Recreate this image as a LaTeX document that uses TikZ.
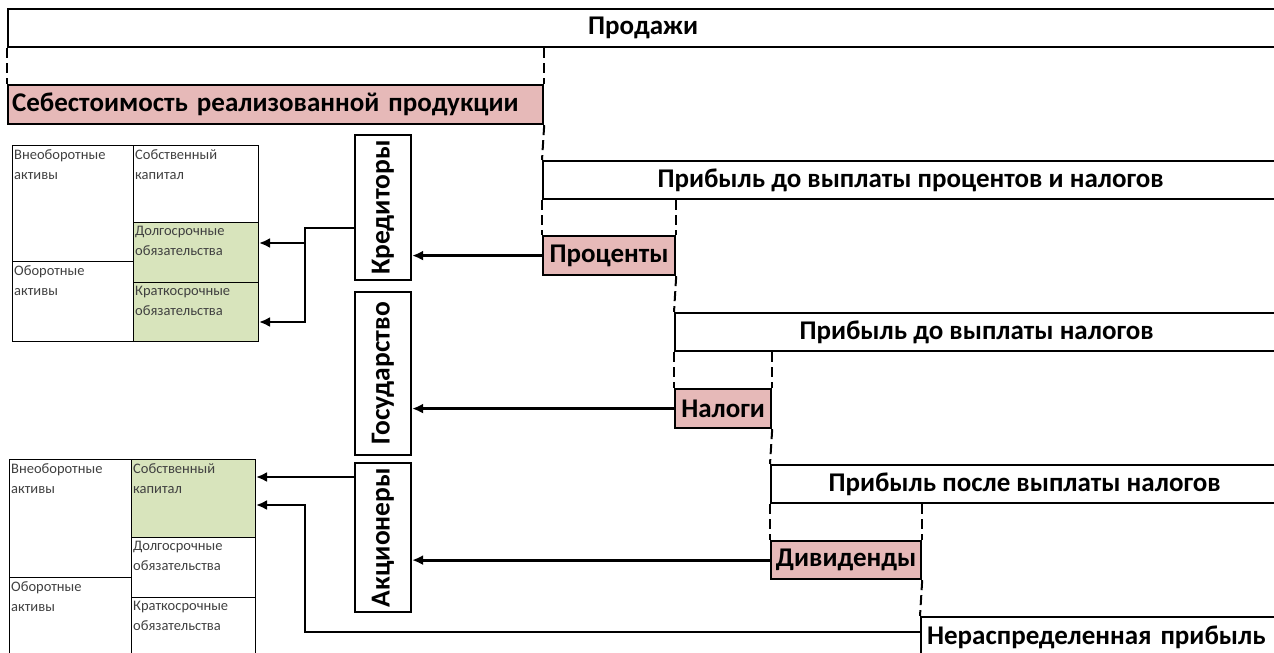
\documentclass[tikz,border=0pt]{standalone}
\usepackage{fontspec}
\setmainfont{Carlito}
\usetikzlibrary{positioning}
\usetikzlibrary{arrows.meta}
\usepackage{xcolor}
\definecolor{costpink}{RGB}{230,185,184}
\definecolor{liabgreen}{RGB}{216,228,188}

\begin{document}
\begin{tikzpicture}[x=1pt, y=-1pt,
        bar/.style={draw, line width=2.2pt, anchor=north west, inner sep=0pt, minimum height=38pt, font=\bfseries\fontsize{27}{30}\selectfont},
        cost/.style={bar, fill=costpink},
        party/.style={draw, line width=2.2pt, rotate=90, inner sep=0pt, minimum height=56pt, font=\bfseries\fontsize{27.5}{30}\selectfont},
        cell/.style={draw, line width=1pt, anchor=north west, inner sep=0pt, minimum width=121pt},
        celltext/.style={anchor=north west, align=left, inner xsep=2pt, inner ysep=4pt, text=black!75, font=\fontsize{14.5}{20}\selectfont},
        guide/.style={line width=2pt, dash pattern=on 10pt off 5pt},
        flow/.style={line width=2.8pt, -{Latex[length=11pt,width=10pt]}}]
            \useasboundingbox (0,0) rectangle (1274,653);

            \node[bar, minimum width=1270pt] (sales) at (7,8) {Продажи};
            \node[cost, text width=527pt, inner xsep=4pt, align=left, minimum height=39pt] (cogs) at (7,84) {Себестоимость реализованной продукции};
            \node[bar, minimum width=735pt] (ebit) at (542,160) {Прибыль до выплаты процентов и налогов};
            \node[cost, minimum width=132pt, minimum height=39pt] (int) at (542,235) {Проценты};
            \node[bar, minimum width=603pt] (ebt) at (674,312) {Прибыль до выплаты налогов};
            \node[cost, minimum width=96pt, minimum height=39pt] (tax) at (674,388) {Налоги};
            \node[bar, minimum width=507pt] (eat) at (770,464) {Прибыль после выплаты налогов};
            \node[cost, minimum width=150pt] (div) at (770,540) {Дивиденды};
            \node[bar, text width=345pt, inner xsep=6pt, align=left, minimum height=40pt] (re) at (920,616) {Нераспределенная прибыль};

            \node[party, minimum width=145pt] (cred) at (383,207.5) {Кредиторы};
            \node[party, minimum width=163pt] (state) at (383,373.5) {Государство};
            \node[party, minimum width=149pt] (share) at (383,537.5) {Акционеры};

            \node[cell, minimum height=116pt, label={[celltext]north west:{Внеоборотные\\активы}}] (fixA) at (12,145) {};
            \node[cell, minimum height=80pt, label={[celltext]north west:{Оборотные\\активы}}] (curA) at (12,261) {};
            \node[cell, minimum width=125pt, minimum height=77pt, label={[celltext]north west:{Собственный\\капитал}}] (eqA) at (133,145) {};
            \node[cell, minimum width=125pt, minimum height=60pt, fill=liabgreen, label={[celltext]north west:{Долгосрочные\\обязательства}}] (ltlA) at (133,222) {};
            \node[cell, minimum width=125pt, minimum height=59pt, fill=liabgreen, label={[celltext]north west:{Краткосрочные\\обязательства}}] (stlA) at (133,282) {};

            \node[cell, minimum width=122pt, minimum height=118pt, label={[celltext]north west:{Внеоборотные\\активы}}] (fixB) at (9,459) {};
            \node[cell, minimum width=122pt, minimum height=90pt, label={[celltext]north west:{Оборотные\\активы}}] (curB) at (9,577) {};
            \node[cell, minimum width=124pt, minimum height=78pt, fill=liabgreen, label={[celltext]north west:{Собственный\\капитал}}] (eqB) at (131,459) {};
            \node[cell, minimum width=124pt, minimum height=60pt, label={[celltext]north west:{Долгосрочные\\обязательства}}] (ltlB) at (131,537) {};
            \node[cell, minimum width=124pt, minimum height=70pt, label={[celltext]north west:{Краткосрочные\\обязательства}}] (stlB) at (131,597) {};

            \draw[guide] (sales.south west) -- (cogs.north west);
            \draw[guide] (cogs.north east |- sales.south) -- (cogs.north east);
            \draw[guide] (cogs.south east) -- (ebit.north west);
            \draw[guide] (ebit.south west) -- (int.north west);
            \draw[guide] (int.north east |- ebit.south) -- (int.north east);
            \draw[guide] (int.south east) -- (ebt.north west);
            \draw[guide] (ebt.south west) -- (tax.north west);
            \draw[guide] (tax.north east |- ebt.south) -- (tax.north east);
            \draw[guide] (tax.south east) -- (eat.north west);
            \draw[guide] (eat.south west) -- (div.north west);
            \draw[guide] (div.north east |- eat.south) -- (div.north east);
            \draw[guide] (div.south east) -- (re.north west);

            \coordinate (credfork) at (305,228);
            \coordinate (ltlin) at (ltlA.east |- 0,243);
            \coordinate (stlin) at (stlA.east |- 0,322);
            \coordinate (refork) at (305,632);
            \coordinate (eqin) at (eqB.east |- 0,477);
            \coordinate (rein) at (eqB.east |- 0,505);

            \draw[flow] (int.west) -- (int.west -| cred.south);
            \draw[flow] (tax.west) -- (tax.west -| state.south);
            \draw[flow] (div.west) -- (div.west -| share.south);
            \draw[flow] (cred.north |- credfork) -- (credfork) |- (stlin);
            \draw[flow] (credfork |- ltlin) -- (ltlin);
            \draw[flow] (share.north |- eqin) -- (eqin);
            \draw[flow] (re.west |- refork) -- (refork) |- (rein);
        \end{tikzpicture}
\end{document}
